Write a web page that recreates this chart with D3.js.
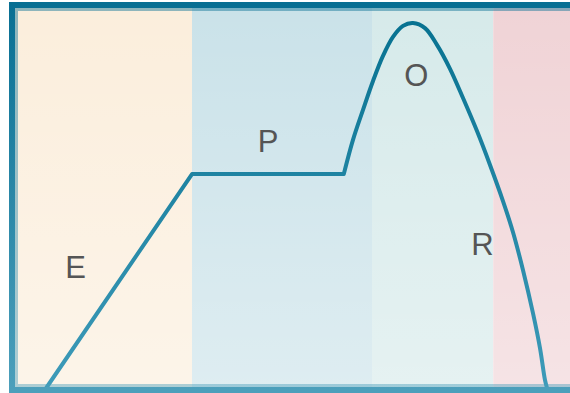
<!DOCTYPE html>
<html>
<head>
<meta charset="utf-8">
<script src="https://cdn.jsdelivr.net/npm/d3@7"></script>
<style>
  html, body { margin: 0; padding: 0; background: #fff; }
  svg { display: block; }
</style>
</head>
<body>
<svg id="chart" width="570" height="393"></svg>
<script>
// phases along the x axis (data units)
const phaseNames = ["E", "P", "O", "R"];
const phaseStart = [0, 3, 6, 8.02];
const phaseEnd = [3, 6, 8.02, 10];
const phaseColors = ["#fbeedc", "#cae2e9", "#d6eaea", "#f0d3d6"];

// label anchors, in data units
const labelX = [1.06, 4.27, 6.74, 7.84];
const labelY = [29, 62, 79.5, 35];

// curve
const lineX = [0.57, 3.0, 5.53, 5.683, 5.85, 6.017, 6.183, 6.35, 6.517, 6.683, 6.883, 7.083,
  7.30, 7.517, 7.75, 7.967, 8.183, 8.35, 8.517, 8.683, 8.80, 8.883, 8.917];
const lineY = [0, 56.3, 56.3, 65.3, 73.2, 80.8, 87.4, 92.4, 95.3, 96.05, 94.7, 90.3,
  84.0, 76.3, 67.6, 58.7, 49.2, 41.0, 31.0, 19.7, 10.5, 2.1, 0];

const svg = d3.select("#chart");
const frameLeft = 12, frameTop = 5, frameBottom = 390, frameRight = 612;

const x = d3.scaleLinear().domain([0, 10]).range([frameLeft, frameRight]);
const y = d3.scaleLinear().domain([0, 100]).range([388, 8]);

const defs = svg.append("defs");

const fade = defs.append("linearGradient")
  .attr("id", "fade").attr("x1", 0).attr("y1", 0).attr("x2", 0).attr("y2", 1);
fade.append("stop").attr("offset", 0).attr("stop-color", "#fff").attr("stop-opacity", 0);
fade.append("stop").attr("offset", 1).attr("stop-color", "#fff").attr("stop-opacity", 0.38);

const frameGrad = defs.append("linearGradient")
  .attr("id", "frameGrad").attr("gradientUnits", "userSpaceOnUse")
  .attr("x1", 0).attr("y1", frameTop).attr("x2", 0).attr("y2", frameBottom);
frameGrad.append("stop").attr("offset", 0).attr("stop-color", "#086f93");
frameGrad.append("stop").attr("offset", 1).attr("stop-color", "#4c9fbb");

const lineGrad = defs.append("linearGradient")
  .attr("id", "lineGrad").attr("gradientUnits", "userSpaceOnUse")
  .attr("x1", 0).attr("y1", frameTop).attr("x2", 0).attr("y2", frameBottom);
lineGrad.append("stop").attr("offset", 0).attr("stop-color", "#05708f");
lineGrad.append("stop").attr("offset", 1).attr("stop-color", "#3e9bb9");

// phase bands
svg.append("g").selectAll("rect")
  .data(phaseNames)
  .join("rect")
  .attr("x", (d, i) => x(phaseStart[i]))
  .attr("y", frameTop)
  .attr("width", (d, i) => x(phaseEnd[i]) - x(phaseStart[i]))
  .attr("height", frameBottom - frameTop)
  .attr("fill", (d, i) => phaseColors[i]);

svg.append("rect")
  .attr("x", frameLeft).attr("y", frameTop)
  .attr("width", frameRight - frameLeft).attr("height", frameBottom - frameTop)
  .attr("fill", "url(#fade)");

// labels
svg.append("g").selectAll("text")
  .data(phaseNames)
  .join("text")
  .attr("x", (d, i) => x(labelX[i]))
  .attr("y", (d, i) => y(labelY[i]))
  .attr("text-anchor", "middle")
  .attr("font-family", "'Liberation Sans', Arial, sans-serif")
  .attr("font-size", 31)
  .attr("fill", "#555")
  .text(d => d);

// line: straight up to the end of the plateau, smooth after that
const pts = lineX.map((v, i) => [x(v), y(lineY[i])]);
const straight = d3.line().curve(d3.curveLinear);
const smooth = d3.line().curve(d3.curveCatmullRom.alpha(0.5));
const pathD = straight(pts.slice(0, 3)) + smooth(pts.slice(2)).replace(/^M/, "L");

svg.append("path")
  .attr("d", pathD)
  .attr("fill", "none")
  .attr("stroke", "url(#lineGrad)")
  .attr("stroke-width", 4)
  .attr("stroke-linejoin", "round");

// frame: light inner band, then the dark outer border
svg.append("rect")
  .attr("x", frameLeft + 4.5).attr("y", frameTop + 4.5)
  .attr("width", frameRight - frameLeft).attr("height", frameBottom - frameTop - 9)
  .attr("fill", "none")
  .attr("stroke", "url(#frameGrad)")
  .attr("stroke-opacity", 0.45)
  .attr("stroke-width", 3);

svg.append("rect")
  .attr("x", frameLeft).attr("y", frameTop)
  .attr("width", frameRight - frameLeft).attr("height", frameBottom - frameTop)
  .attr("fill", "none")
  .attr("stroke", "url(#frameGrad)")
  .attr("stroke-width", 6);
</script>
</body>
</html>
